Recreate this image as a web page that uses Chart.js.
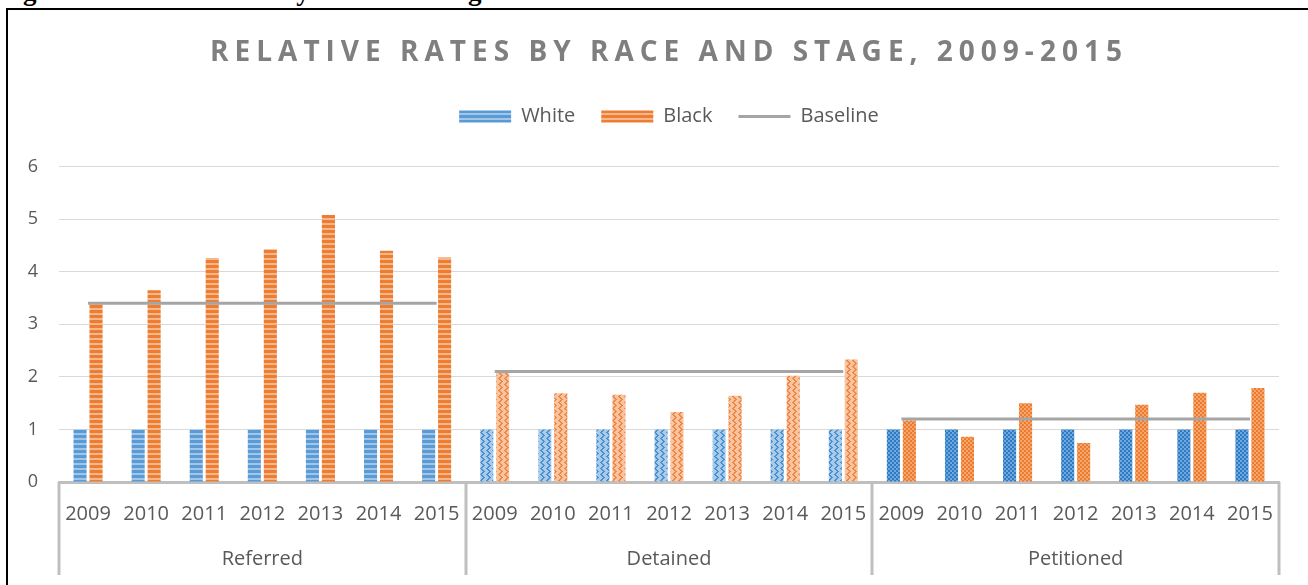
<!DOCTYPE html>
<html>
<head>
<meta charset="utf-8">
<title>Relative Rates by Race and Stage, 2009-2015</title>
<script src="https://cdn.jsdelivr.net/npm/chart.js@4.4.1/dist/chart.umd.min.js"></script>
<style>
  html, body { margin: 0; padding: 0; background: #fff; }
  body { width: 1308px; height: 585px; position: relative; overflow: hidden; }
  .caption { position: absolute; left: -1px; top: -22px; font: bold 27px/27px "Liberation Serif", serif; color: #000; white-space: nowrap; }
  .frame { position: absolute; left: 6px; top: 8px; width: 1400px; height: 700px; border-left: 2px solid #000; border-top: 2px solid #000; }
  #chart { position: absolute; left: 0; top: 0; }
</style>
</head>
<body>
<div class="caption">Figure 4. Relative Rates by Race and Stage</div>
<div class="frame"></div>
<canvas id="chart" width="1308" height="585"></canvas>
<script>
// 数据
const years = ['2009', '2010', '2011', '2012', '2013', '2014', '2015'];
const stages = ['Referred', 'Detained', 'Petitioned'];
const whiteRates = [
    1, 1, 1, 1, 1, 1, 1,
    1, 1, 1, 1, 1, 1, 1,
    1, 1, 1, 1, 1, 1, 1
];
const blackRates = [
    3.38, 3.65, 4.26, 4.43, 5.08, 4.40, 4.27,
    2.08, 1.69, 1.66, 1.33, 1.64, 2.02, 2.33,
    1.17, 0.86, 1.50, 0.74, 1.47, 1.70, 1.79
];
const baselineRates = [
    3.4, 3.4, 3.4, 3.4, 3.4, 3.4, 3.4,
    2.1, 2.1, 2.1, 2.1, 2.1, 2.1, 2.1,
    1.2, 1.2, 1.2, 1.2, 1.2, 1.2, 1.2
];
const yMax = 6;

const GREY_TEXT = '#595959';
const BASELINE_COLOR = '#A5A5A5';

/**
 * 生成填充图案
 */
function makePattern(w, h, draw) {
    const c = document.createElement('canvas');
    c.width = w;
    c.height = h;
    const g = c.getContext('2d');
    draw(g, w, h);
    return g.createPattern(c, 'repeat');
}

function stripes(dark, light) {
    return makePattern(4, 5, (g, w, h) => {
        g.fillStyle = light;
        g.fillRect(0, 0, w, h);
        g.fillStyle = dark;
        g.fillRect(0, 0, w, 3);
    });
}

function zigzag(base, line) {
    return makePattern(6, 6, (g, w, h) => {
        g.fillStyle = base;
        g.fillRect(0, 0, w, h);
        g.fillStyle = line;
        for (let y = 0; y < h; y++) {
            const x = y < 3 ? y : 6 - y;
            g.fillRect(x, y, 2, 1);
        }
    });
}

function checker(a, b) {
    return makePattern(4, 4, (g) => {
        g.fillStyle = a;
        g.fillRect(0, 0, 4, 4);
        g.fillStyle = b;
        g.fillRect(0, 0, 2, 2);
        g.fillRect(2, 2, 2, 2);
    });
}

// 每个阶段一种图案
const whiteFills = [
    stripes('#5B9BD5', '#A2C6E8'),
    zigzag('#A9CBEA', '#4A8FD0'),
    checker('#2E7BC4', '#6EA8DE')
];
const blackFills = [
    stripes('#ED7D31', '#F5B78E'),
    zigzag('#F8C4A0', '#EE8745'),
    checker('#EE7B2C', '#F4A670')
];

const stageOf = (i) => Math.floor((i || 0) / years.length);

// 标题字距、图例下方留白
const layoutTweaks = {
    id: 'layoutTweaks',
    beforeInit(chart) {
        const legend = chart.legend;
        const fitLegend = legend.fit;
        legend.fit = function () {
            fitLegend.call(this);
            this.height += 30;
        };
        const title = chart.titleBlock;
        const drawTitle = title.draw;
        title.draw = function (area) {
            const ctx = this.ctx;
            ctx.save();
            ctx.letterSpacing = '6px';
            drawTitle.call(this, area);
            ctx.restore();
        };
    }
};

// 阶段之间的分隔线
const groupDividers = {
    id: 'groupDividers',
    afterDraw(chart) {
        const x = chart.scales.x;
        const ctx = chart.ctx;
        ctx.save();
        ctx.strokeStyle = '#BFBFBF';
        ctx.lineWidth = 3;
        for (let g = 0; g <= stages.length; g++) {
            const px = Math.round(x.getPixelForValue(g * years.length - 0.5));
            ctx.beginPath();
            ctx.moveTo(px, chart.chartArea.bottom);
            ctx.lineTo(px, 575);
            ctx.stroke();
        }
        ctx.restore();
    }
};

Chart.defaults.font.family = '"Open Sans", sans-serif';
Chart.defaults.color = GREY_TEXT;

const labels = stages.flatMap(() => years);

new Chart(document.getElementById('chart'), {
    type: 'bar',
    data: {
        labels: labels,
        datasets: [{
            label: 'White',
            data: whiteRates,
            backgroundColor: (c) => whiteFills[stageOf(c.dataIndex)],
            borderWidth: 0,
            order: 1
        }, {
            label: 'Black',
            data: blackRates,
            backgroundColor: (c) => blackFills[stageOf(c.dataIndex)],
            borderWidth: 0,
            order: 1
        }, {
            type: 'line',
            label: 'Baseline',
            data: baselineRates,
            borderColor: BASELINE_COLOR,
            backgroundColor: BASELINE_COLOR,
            borderWidth: 3,
            pointRadius: 0,
            order: 0,
            segment: {
                borderColor: (c) => (c.p0DataIndex % years.length === years.length - 1 ? 'transparent' : BASELINE_COLOR)
            }
        }]
    },
    options: {
        responsive: false,
        devicePixelRatio: 1,
        animation: false,
        categoryPercentage: 0.55,
        barPercentage: 0.82,
        layout: {
            padding: { left: 0, right: 29, top: 0, bottom: 0 }
        },
        plugins: {
            tooltip: { enabled: false },
            title: {
                display: true,
                text: 'RELATIVE RATES BY RACE AND STAGE, 2009-2015',
                color: '#7F7F7F',
                fullSize: false,
                font: { size: 28, weight: 'bold' },
                padding: { top: 36, bottom: 11 }
            },
            legend: {
                display: true,
                position: 'top',
                fullSize: false,
                labels: {
                    color: GREY_TEXT,
                    font: { size: 20 },
                    usePointStyle: true,
                    pointStyleWidth: 52,
                    boxHeight: 12,
                    padding: 26,
                    generateLabels(chart) {
                        const items = Chart.defaults.plugins.legend.labels.generateLabels(chart);
                        items.sort((a, b) => a.datasetIndex - b.datasetIndex);
                        items.forEach((item) => {
                            const ds = chart.data.datasets[item.datasetIndex];
                            if (ds.type === 'line') {
                                item.pointStyle = 'line';
                                item.strokeStyle = BASELINE_COLOR;
                                item.lineWidth = 3;
                            } else {
                                item.pointStyle = 'rect';
                                item.lineWidth = 0;
                            }
                        });
                        return items;
                    }
                }
            }
        },
        scales: {
            x: {
                position: 'bottom',
                grid: { display: false },
                border: { display: true, color: '#BFBFBF', width: 3 },
                ticks: {
                    autoSkip: false,
                    maxRotation: 0,
                    padding: 12,
                    color: GREY_TEXT,
                    font: { size: 20 }
                },
                afterFit(scale) { scale.height = 53; }
            },
            x2: {
                type: 'category',
                position: 'bottom',
                labels: stages,
                offset: true,
                grid: { display: false },
                border: { display: false },
                ticks: {
                    autoSkip: false,
                    maxRotation: 0,
                    padding: 4,
                    color: GREY_TEXT,
                    font: { size: 20 }
                },
                afterFit(scale) { scale.height = 50; }
            },
            y: {
                min: 0,
                max: yMax,
                ticks: {
                    stepSize: 1,
                    padding: 21,
                    color: GREY_TEXT,
                    font: { size: 18 }
                },
                grid: { color: '#D9D9D9', lineWidth: 1, drawTicks: false },
                border: { display: false },
                afterFit(scale) { scale.width = 59; }
            }
        }
    },
    plugins: [layoutTweaks, groupDividers]
});
</script>
</body>
</html>
